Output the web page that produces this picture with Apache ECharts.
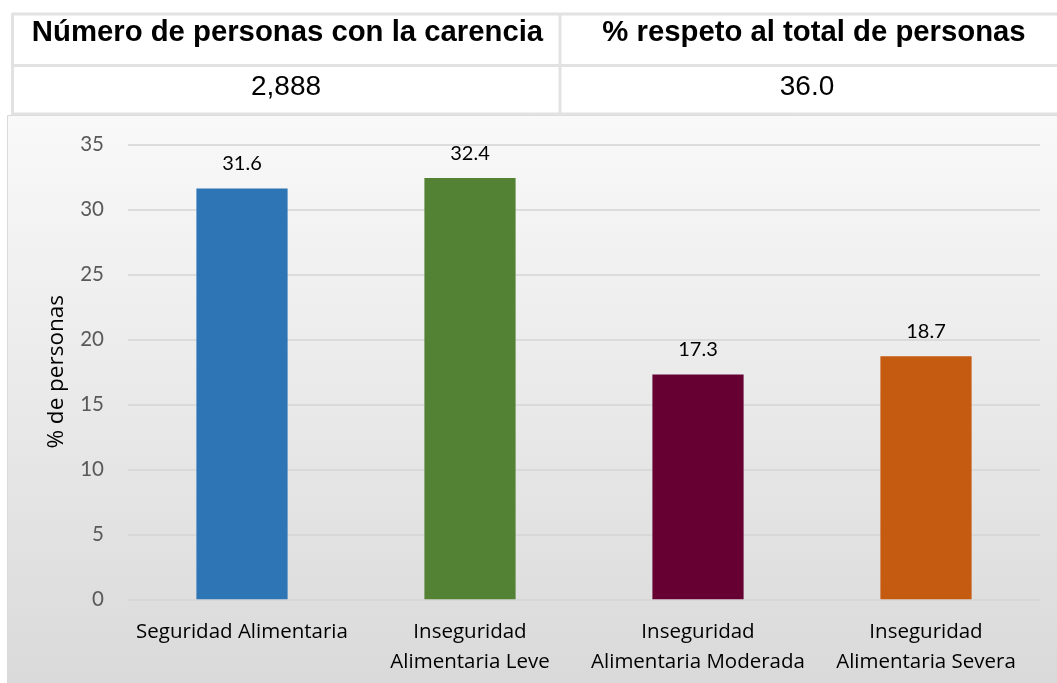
<!DOCTYPE html>
<html>
<head>
<meta charset="utf-8">
<script src="https://cdn.jsdelivr.net/npm/echarts@6/dist/echarts.min.js"></script>
<style>
html,body{margin:0;padding:0;background:#ffffff;}
#chart{width:1057px;height:683px;}
</style>
</head>
<body>
<div id="chart"></div>
<script>
const categories = ["Seguridad Alimentaria", "Inseguridad Alimentaria Leve", "Inseguridad Alimentaria Moderada", "Inseguridad Alimentaria Severa"];
const values = [31.6, 32.4, 17.3, 18.7];
const barColors = ["#2E75B6", "#548235", "#660033", "#C55A11"];
const yTicks = [0, 5, 10, 15, 20, 25, 30, 35];
const tableHeaders = ["Número de personas con la carencia", "% respeto al total de personas"];
const tableValues = ["2,888", "36.0"];
const yAxisTitle = "% de personas";

const chart = echarts.init(document.getElementById('chart'), null, {renderer: 'canvas'});
const font = 'Lato, "Open Sans", sans-serif';
const font2 = '"Open Sans", Lato, sans-serif';
const tableFont = '"Liberation Sans", Arial, sans-serif';

const borderColor = '#e2e2e2';
const graphics = [
  {type: 'rect', z: -10, shape: {x: 7.5, y: 115.5, width: 1060, height: 580},
   style: {fill: new echarts.graphic.LinearGradient(0, 0, 0, 1, [
     {offset: 0, color: '#f9f9f9'}, {offset: 1, color: '#d9d9d9'}]),
     stroke: '#d9d9d9', lineWidth: 1}},
  {type: 'line', shape: {x1: 12, y1: 14, x2: 1057, y2: 14}, style: {stroke: borderColor, lineWidth: 3}},
  {type: 'line', shape: {x1: 12, y1: 65.5, x2: 1057, y2: 65.5}, style: {stroke: borderColor, lineWidth: 3}},
  {type: 'line', shape: {x1: 12, y1: 114, x2: 1057, y2: 114}, style: {stroke: borderColor, lineWidth: 3}},
  {type: 'line', shape: {x1: 12.5, y1: 13, x2: 12.5, y2: 115}, style: {stroke: borderColor, lineWidth: 3}},
  {type: 'line', shape: {x1: 560, y1: 13, x2: 560, y2: 115}, style: {stroke: borderColor, lineWidth: 3}},
  {type: 'text', x: 287.5, y: 33, style: {text: tableHeaders[0], font: 'bold 29.3px ' + tableFont, fill: '#000', align: 'center', verticalAlign: 'middle'}},
  {type: 'text', x: 814, y: 33, style: {text: tableHeaders[1], font: 'bold 29.3px ' + tableFont, fill: '#000', align: 'center', verticalAlign: 'middle'}},
  {type: 'text', x: 286, y: 87, style: {text: tableValues[0], font: '28px ' + tableFont, fill: '#000', align: 'center', verticalAlign: 'middle'}},
  {type: 'text', x: 807, y: 87, style: {text: tableValues[1], font: '28px ' + tableFont, fill: '#000', align: 'center', verticalAlign: 'middle'}}
];

chart.setOption({
  animation: false,
  backgroundColor: 'transparent',
  graphic: graphics,
  grid: {left: 128, right: 17, top: 144.3, bottom: 683 - 599.3, containLabel: false},
  xAxis: {
    type: 'category',
    data: categories,
    axisLine: {show: false},
    axisTick: {show: false},
    axisLabel: {
      interval: 0,
      margin: 18,
      color: '#000',
      fontFamily: font2,
      fontSize: 20.5,
      lineHeight: 30,
      formatter: function (v) { return v.replace(/^Inseguridad /, 'Inseguridad\n'); }
    }
  },
  yAxis: {
    type: 'value',
    min: yTicks[0],
    max: yTicks[yTicks.length - 1],
    interval: 5,
    name: yAxisTitle,
    nameLocation: 'middle',
    nameGap: 60,
    nameRotate: 90,
    nameTextStyle: {color: '#000', fontFamily: font2, fontSize: 22.5},
    axisLine: {show: false},
    axisTick: {show: false},
    axisLabel: {margin: 24, color: '#595959', fontFamily: font, fontSize: 20.5},
    splitLine: {lineStyle: {color: '#d4d4d4', width: 1.5}}
  },
  series: [{
    type: 'bar',
    barWidth: '40%',
    data: values.map((v, i) => ({value: v, itemStyle: {color: barColors[i]}})),
    label: {
      show: true,
      position: 'top',
      distance: 15,
      color: '#000',
      fontFamily: font,
      fontSize: 20,
      formatter: p => p.value.toFixed(1)
    }
  }]
});
</script>
</body>
</html>
